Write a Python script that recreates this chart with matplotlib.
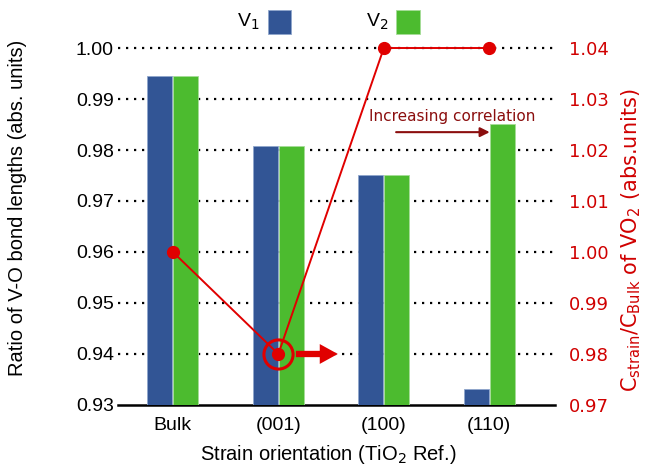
import matplotlib
matplotlib.use("Agg")
import matplotlib.pyplot as plt
from matplotlib.patches import Rectangle
import numpy as np

categories = ["Bulk", "(001)", "(100)", "(110)"]
v1 = [0.9945, 0.9808, 0.9751, 0.9331]
v2 = [0.9945, 0.9808, 0.9751, 0.9851]
c_ratio = [1.000, 0.980, 1.040, 1.040]
left_ticks = [0.93, 0.94, 0.95, 0.96, 0.97, 0.98, 0.99, 1.00]
right_ticks = [0.97, 0.98, 0.99, 1.00, 1.01, 1.02, 1.03, 1.04]

BLUE = "#325595"
GREEN = "#4CBB2F"
RED = "#E00000"
TICKRED = "#D00000"
DARKRED = "#8B0E0E"
ARIAL = "Liberation Sans"

W, H = 645, 467
fig = plt.figure(figsize=(6.45, 4.67), dpi=100)
ax = fig.add_axes([0.183, 0.1328, 0.677, 0.7644])
x = np.arange(len(categories))
w = 0.237
ax.bar(x - w / 2 - 0.005, [v - 0.93 for v in v1], w, bottom=0.93, color=BLUE,
       edgecolor="#8FA6CC", linewidth=0.6, zorder=3)
ax.bar(x + w / 2 + 0.005, [v - 0.93 for v in v2], w, bottom=0.93, color=GREEN,
       edgecolor="#A6DD98", linewidth=0.6, zorder=3)
ax.set_xlim(-0.52, 3.62)
ax.set_ylim(0.93, 1.00)
ax.set_yticks(left_ticks)
ax.set_yticklabels([f"{t:.2f}" for t in left_ticks], family=ARIAL, fontsize=14)
for t in left_ticks[1:]:
    ax.axhline(t, color="black", linestyle=(0, (1, 2.6)), linewidth=1.6, zorder=1,
               clip_on=False)
ax.set_xticks(x)
ax.set_xticklabels(categories, family=ARIAL, fontsize=14)
for s in ["top", "left", "right"]:
    ax.spines[s].set_visible(False)
ax.spines["bottom"].set_linewidth(1.8)
ax.tick_params(axis="y", length=0, pad=3)
ax.tick_params(axis="x", length=0, pad=9)
fig.text(18 / W, 1 - 208 / H, "Ratio of V-O bond lengths (abs. units)", family=ARIAL,
         fontsize=14.5, rotation=90, ha="center", va="center")
fig.text(328 / W, 1 - 455 / H, "Strain orientation (TiO$_2$ Ref.)", family=ARIAL,
         fontsize=14.5, ha="center", va="center")

ax.text(2.65, 0.9866, "Increasing correlation", color=DARKRED, fontsize=11,
        ha="center", va="center", zorder=6)
ax.annotate("", xy=(3.03, 0.9835), xytext=(2.09, 0.9835),
            arrowprops=dict(arrowstyle="-|>", color=DARKRED, lw=1.5,
                            mutation_scale=14), zorder=6)

ax2 = ax.twinx()
ax2.set_ylim(0.97, 1.04)
ax2.set_yticks(right_ticks)
ax2.set_yticklabels([f"{t:.2f}" for t in right_ticks], color=TICKRED, fontsize=13)
for s in ["top", "left", "right", "bottom"]:
    ax2.spines[s].set_visible(False)
ax2.tick_params(axis="y", length=0, pad=10)
fig.text(631 / W, 1 - 240 / H,
         "C$_{\\mathrm{strain}}$/C$_{\\mathrm{Bulk}}$ of VO$_2$ (abs.units)",
         color=TICKRED, fontsize=15, rotation=90, ha="center", va="center")
ax2.plot(x, c_ratio, color=RED, lw=1.4, marker="o", markersize=8.5, zorder=5,
         clip_on=False)
ax2.plot([x[1]], [c_ratio[1]], marker="o", markersize=21, markerfacecolor="none",
         markeredgecolor=RED, markeredgewidth=2.2, zorder=5, clip_on=False)
ax2.annotate("", xy=(1.59, c_ratio[1]), xytext=(1.14, c_ratio[1]),
             arrowprops=dict(arrowstyle="simple,head_width=1.1,head_length=1.0,tail_width=0.35",
                             color=RED, mutation_scale=13, lw=0), zorder=5)

# legend
fig.text(237 / W, 1 - 22 / H, "V$_1$", family=ARIAL, fontsize=14,
         va="center", ha="left")
fig.patches.append(Rectangle((268 / W, 1 - 34 / H), 23 / W, 24 / H,
                             transform=fig.transFigure, facecolor=BLUE,
                             edgecolor="#8FA6CC", lw=0.6))
fig.text(366 / W, 1 - 22 / H, "V$_2$", family=ARIAL, fontsize=14,
         va="center", ha="left")
fig.patches.append(Rectangle((396 / W, 1 - 34 / H), 24 / W, 24 / H,
                             transform=fig.transFigure, facecolor=GREEN,
                             edgecolor="#A6DD98", lw=0.6))

fig.savefig("out.png", dpi=100)
